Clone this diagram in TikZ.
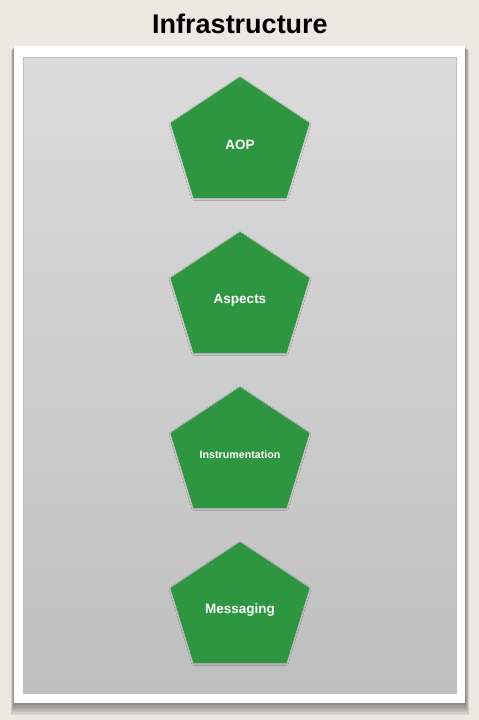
\documentclass[tikz,border=0pt]{standalone}
\usepackage{fontspec}
\setmainfont{Liberation Sans}
\usetikzlibrary{shadows.blur}
\definecolor{paper}{RGB}{236,233,226}
\definecolor{pentgreen}{RGB}{46,150,64}
\definecolor{graytop}{RGB}{219,219,219}
\definecolor{graybot}{RGB}{191,191,191}
\tikzset{
  pentlabel/.style={text=white, font=\bfseries, inner sep=0pt},
  pentshape/.style={fill=pentgreen, draw=none, blur shadow={shadow xshift=0pt, shadow yshift=-1pt, shadow blur radius=1.5pt, shadow opacity=12}},
}
\begin{document}
\begin{tikzpicture}[x=1pt,y=-1pt]
\useasboundingbox (0,0) rectangle (479,720);
\fill[paper] (0,0) rectangle (479,720);
% title
\node[font=\fontsize{27}{30}\selectfont\bfseries, text=black] (title) at (240,24) {Infrastructure};
% frame shadow
\foreach \i in {1,...,8}{
  \fill[black, opacity=0.06] (14-\i*0.4,46+\i*0.5) rectangle (465+\i*0.5,703+\i*1.5);
}
% white frame
\fill[white] (14,46) coordinate (frameTL) rectangle (465,703) coordinate (frameBR);
% gray panel
\shade[top color=graytop, bottom color=graybot] (23,57) rectangle (456,693);
\draw[gray!50, line width=0.4pt] (23,57) rectangle (456,693);
% pentagons
\foreach \t/\name/\txt/\fs in {77/aop/AOP/13.5, 232/aspects/Aspects/13.5, 387/instr/Instrumentation/10.7, 542/msg/Messaging/13.5}{
  \coordinate (\name top) at (240,\t);
  \path[pentshape] (\name top) -- ++(69.5,46) -- ++(-23,75) -- ++(-93,0) -- ++(-23,-75) -- cycle;
  \node[pentlabel, font=\fontsize{\fs}{\fs}\selectfont\bfseries] (\name) at (240,\t+68) {\txt};
}
\end{tikzpicture}
\end{document}
